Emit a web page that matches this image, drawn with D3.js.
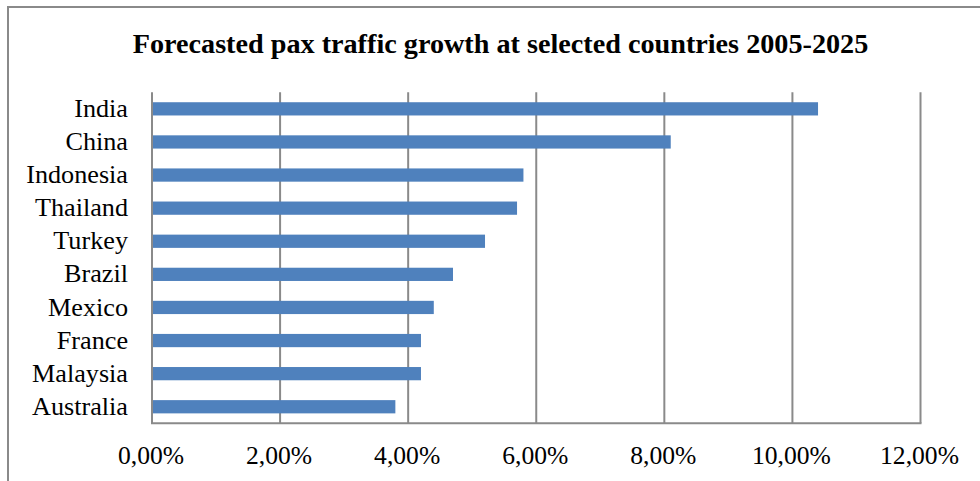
<!DOCTYPE html>
<html>
<head>
<meta charset="utf-8">
<script src="https://cdn.jsdelivr.net/npm/d3@7"></script>
<style>
  html, body { margin: 0; padding: 0; background: #fff; }
  svg { display: block; }
</style>
</head>
<body>
<svg id="chart" width="980" height="481"></svg>
<script>
// Forecast annual passenger traffic growth, 2005-2025
const countries = ["India", "China", "Indonesia", "Thailand", "Turkey", "Brazil", "Mexico", "France", "Malaysia", "Australia"];
const growth = [0.104, 0.081, 0.058, 0.057, 0.052, 0.047, 0.044, 0.042, 0.042, 0.038];
const tickValues = [0, 0.02, 0.04, 0.06, 0.08, 0.10, 0.12];
const title = "Forecasted pax traffic growth at selected countries 2005-2025";

const rows = countries.map((c, i) => ({ country: c, value: growth[i] }));

const svg = d3.select("#chart");
const serif = "'Liberation Serif', 'Times New Roman', serif";
const gridColor = "#8a8a8a";

// outer frame
svg.append("rect")
  .attr("x", 8).attr("y", 7)
  .attr("width", 1000).attr("height", 500)
  .attr("fill", "none")
  .attr("stroke", "#8a8a8a")
  .attr("stroke-width", 2);

const plot = { left: 152, right: 920.5, top: 92.3, bottom: 423.3 };

const x = d3.scaleLinear().domain([0, 0.12]).range([plot.left, plot.right]);
const y = d3.scaleBand()
  .domain(countries)
  .range([plot.top, plot.bottom])
  .paddingInner(0.6)
  .paddingOuter(0.3);

// title
svg.append("text")
  .attr("x", 500.5).attr("y", 53)
  .attr("text-anchor", "middle")
  .attr("font-family", serif)
  .attr("font-weight", "bold")
  .attr("font-size", 28.2)
  .attr("fill", "#000")
  .text(title);

// vertical gridlines
svg.append("g")
  .selectAll("line")
  .data(tickValues)
  .join("line")
  .attr("x1", d => x(d)).attr("x2", d => x(d))
  .attr("y1", plot.top).attr("y2", plot.bottom)
  .attr("stroke", gridColor)
  .attr("stroke-width", 2);

// bottom axis line
svg.append("line")
  .attr("x1", plot.left - 1).attr("x2", plot.right + 1)
  .attr("y1", plot.bottom).attr("y2", plot.bottom)
  .attr("stroke", gridColor)
  .attr("stroke-width", 2);

// bars
svg.append("g")
  .selectAll("rect")
  .data(rows)
  .join("rect")
  .attr("x", x(0) + 1)
  .attr("y", d => y(d.country))
  .attr("width", d => x(d.value) - x(0) - 1)
  .attr("height", y.bandwidth())
  .attr("fill", "#4f81bd");

// x axis labels
const fmt = v => (v * 100).toFixed(2).replace(".", ",") + "%";
const xAxis = d3.axisBottom(x)
  .tickValues(tickValues)
  .tickFormat(fmt)
  .tickSize(0)
  .tickPadding(0);
const gx = svg.append("g")
  .attr("transform", `translate(-1.5,${plot.bottom})`)
  .call(xAxis);
gx.select(".domain").remove();
gx.selectAll("text")
  .attr("y", 41)
  .attr("dy", 0)
  .attr("font-family", serif)
  .attr("font-size", 25.6)
  .attr("fill", "#000");

// category labels
const yAxis = d3.axisLeft(y).tickSize(0).tickPadding(0);
const gy = svg.append("g")
  .attr("transform", `translate(128,0)`)
  .call(yAxis);
gy.select(".domain").remove();
gy.selectAll("text")
  .attr("x", 0)
  .attr("dy", "0.31em")
  .attr("font-family", serif)
  .attr("font-size", 26.2)
  .attr("fill", "#000");
</script>
</body>
</html>
